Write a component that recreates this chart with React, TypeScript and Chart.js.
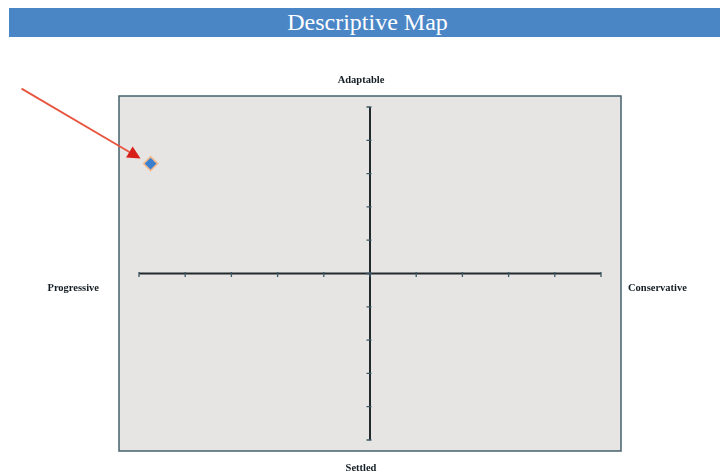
import React, { useEffect, useRef } from "react";
import { Chart, registerables } from "chart.js";

Chart.register(...registerables);

const TITLE = "Descriptive Map";
const xTicks = [-5, -4, -3, -2, -1, 0, 1, 2, 3, 4, 5];
const yTicks = [-5, -4, -3, -2, -1, 0, 1, 2, 3, 4, 5];
const xValues = [-4.75];
const yValues = [3.3];
const topLabel = "Adaptable";
const bottomLabel = "Settled";
const leftLabel = "Progressive";
const rightLabel = "Conservative";

const mapPlugin = {
  id: "mapPlugin",
  beforeDatasetsDraw(chart: any) {
    const { ctx, chartArea: a, scales } = chart;
    const xs = scales.x;
    const ys = scales.y;
    ctx.save();
    const bx = a.left - 20, by = a.top - 11, bw = a.right - a.left + 40, bh = a.bottom - a.top + 22;
    ctx.fillStyle = "#e7e5e3";
    ctx.fillRect(bx, by, bw, bh);
    ctx.strokeStyle = "#46606c";
    ctx.lineWidth = 1.5;
    ctx.strokeRect(bx, by, bw, bh);
    const x0 = xs.getPixelForValue(0);
    const y0 = ys.getPixelForValue(0);
    ctx.strokeStyle = "#22292d";
    ctx.lineWidth = 2;
    ctx.beginPath();
    ctx.moveTo(xs.getPixelForValue(xTicks[0]), y0);
    ctx.lineTo(xs.getPixelForValue(xTicks[xTicks.length - 1]), y0);
    ctx.moveTo(x0, ys.getPixelForValue(yTicks[0]));
    ctx.lineTo(x0, ys.getPixelForValue(yTicks[yTicks.length - 1]));
    ctx.stroke();
    ctx.strokeStyle = "#3d5866";
    ctx.lineWidth = 1.3;
    ctx.beginPath();
    xTicks.forEach((t) => {
      const px = xs.getPixelForValue(t);
      ctx.moveTo(px, y0 - 1.5);
      ctx.lineTo(px, y0 + 3.5);
    });
    yTicks.forEach((t) => {
      const py = ys.getPixelForValue(t);
      ctx.moveTo(x0 - 3.5, py);
      ctx.lineTo(x0 + 1.5, py);
    });
    ctx.stroke();
    ctx.restore();
  },
  afterDraw(chart: any) {
    const { ctx, chartArea: a, scales } = chart;
    const xs = scales.x;
    const ys = scales.y;
    ctx.save();
    ctx.fillStyle = "#141e24";
    ctx.font = "bold 10.5px 'Liberation Serif', 'Times New Roman', serif";
    ctx.textBaseline = "middle";
    ctx.textAlign = "center";
    const cx = (a.left + a.right) / 2 - 9;
    const y0 = ys.getPixelForValue(0);
    ctx.fillText(topLabel, cx, a.top - 27);
    ctx.fillText(bottomLabel, cx, a.bottom + 28);
    ctx.textAlign = "right";
    ctx.fillText(leftLabel, a.left - 40, y0 + 15);
    ctx.textAlign = "left";
    ctx.fillText(rightLabel, a.right + 27, y0 + 15);
    const px = xs.getPixelForValue(xValues[0]);
    const py = ys.getPixelForValue(yValues[0]);
    const tipX = px - 10, tipY = py - 5;
    const sx = px - 129, sy = py - 75;
    const ang = Math.atan2(tipY - sy, tipX - sx);
    const hl = 13, hw = 6.5;
    const bxp = tipX - hl * Math.cos(ang), byp = tipY - hl * Math.sin(ang);
    ctx.strokeStyle = "#e8553f";
    ctx.lineWidth = 1.8;
    ctx.beginPath();
    ctx.moveTo(sx, sy);
    ctx.lineTo(bxp, byp);
    ctx.stroke();
    ctx.fillStyle = "#d8201a";
    ctx.beginPath();
    ctx.moveTo(tipX, tipY);
    ctx.lineTo(bxp - hw * Math.sin(ang), byp + hw * Math.cos(ang));
    ctx.lineTo(bxp + hw * Math.sin(ang), byp - hw * Math.cos(ang));
    ctx.closePath();
    ctx.fill();
    ctx.restore();
  },
};

export default function App() {
  const ref = useRef<HTMLCanvasElement | null>(null);
  useEffect(() => {
    document.body.style.margin = "0";
    const canvas = ref.current;
    if (!canvas) return;
    const chart = new Chart(canvas, {
      type: "scatter",
      data: {
        datasets: [
          {
            data: xValues.map((x, i) => ({ x, y: yValues[i] })),
            pointStyle: "rectRot",
            pointRadius: 7,
            backgroundColor: "#3b7fcf",
            borderColor: "#f3b98c",
            borderWidth: 1.5,
          },
        ],
      },
      options: {
        animation: false,
        responsive: false,
        layout: { padding: { left: 139, right: 119, top: 107, bottom: 34 } },
        scales: {
          x: { type: "linear", min: xTicks[0], max: xTicks[xTicks.length - 1], display: false },
          y: { type: "linear", min: yTicks[0], max: yTicks[yTicks.length - 1], display: false },
        },
        plugins: { legend: { display: false }, tooltip: { enabled: false } },
      },
      plugins: [mapPlugin],
    } as any);
    return () => chart.destroy();
  }, []);
  return (
    <div style={{ position: "fixed", left: 0, top: 0, width: 720, height: 474, background: "#fff" }}>
      <div
        style={{
          position: "absolute",
          left: 9,
          top: 8,
          width: 711,
          height: 29,
          background: "#4a86c6",
          color: "#fff",
          fontFamily: "'Liberation Serif', 'Times New Roman', serif",
          fontSize: 24,
          lineHeight: "29px",
          textAlign: "center",
          paddingLeft: 6,
          boxSizing: "border-box",
        }}
      >
        {TITLE}
      </div>
      <canvas ref={ref} width={720} height={474} style={{ position: "absolute", left: 0, top: 0, pointerEvents: "none" }} />
    </div>
  );
}
